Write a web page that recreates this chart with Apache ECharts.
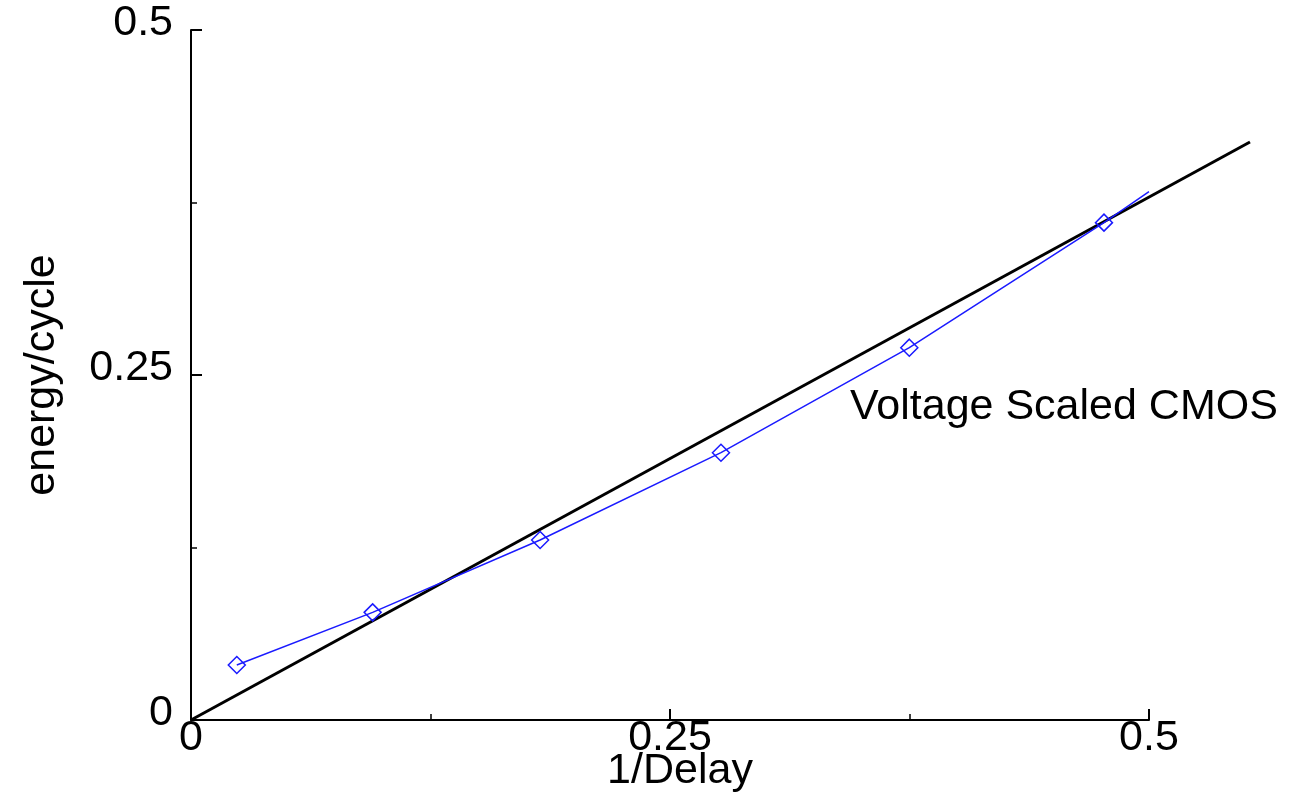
<!DOCTYPE html>
<html>
<head>
<meta charset="utf-8">
<script src="https://cdn.jsdelivr.net/npm/echarts@6/dist/echarts.min.js"></script>
<style>
  html, body { margin: 0; padding: 0; background: #fff; }
  #chart { width: 1291px; height: 800px; }
</style>
</head>
<body>
<div id="chart"></div>
<script>
// Measured energy per cycle against 1/delay for voltage-scaled CMOS
const inverseDelay = [0.0239, 0.0948, 0.1822, 0.2766, 0.3749, 0.4765, 0.5];
const energyPerCycle = [0.0399, 0.0780, 0.1304, 0.1937, 0.2698, 0.3604, 0.3828];

// Linear reference (energy proportional to 1/delay); it runs past the x-axis end
const referenceX = [0, 0.5527];
const referenceY = [0, 0.4188];

// Axis ranges and ticks
const xRange = [0, 0.5];
const yRange = [0, 0.5];
const tickStep = 0.25;

const FONT = '"Liberation Sans", Arial, Helvetica, sans-serif';
const FS = 43;

const measured = inverseDelay.map((x, i) => {
  const item = { value: [x, energyPerCycle[i]] };
  // the last point only extends the curve, without a marker
  if (i === inverseDelay.length - 1) item.symbol = 'none';
  return item;
});

const chart = echarts.init(document.getElementById('chart'), null, { renderer: 'canvas' });

const axisCommon = {
  type: 'value',
  interval: tickStep,
  splitNumber: 2,
  axisLine: { show: true, lineStyle: { color: '#000', width: 2 } },
  axisTick: { show: true, inside: true, length: 11, lineStyle: { color: '#000', width: 2 } },
  minorTick: { show: true, splitNumber: 2, length: 6, lineStyle: { color: '#000', width: 1.5 } },
  splitLine: { show: false },
  nameLocation: 'middle',
  nameMoveOverlap: false,
  nameTextStyle: { fontFamily: FONT, fontSize: FS, color: '#000' }
};

chart.setOption({
  animation: false,
  backgroundColor: '#fff',
  grid: { left: 191, right: 142, top: 30, bottom: 80, containLabel: false, outerBoundsMode: 'none' },
  xAxis: Object.assign({}, axisCommon, {
    min: xRange[0], max: xRange[1],
    name: '1/Delay',
    nameGap: 30,
    nameTextStyle: { fontFamily: FONT, fontSize: FS, color: '#000', padding: [0, 0, 0, 20] },
    axisLabel: { fontFamily: FONT, fontSize: FS, color: '#000', margin: -3 }
  }),
  yAxis: Object.assign({}, axisCommon, {
    min: yRange[0], max: yRange[1],
    name: 'energy/cycle',
    nameGap: 127,
    axisLabel: { fontFamily: FONT, fontSize: FS, color: '#000', margin: 18, verticalAlign: 'bottom', lineHeight: 14 }
  }),
  series: [
    {
      name: 'Voltage Scaled CMOS',
      type: 'line',
      data: measured,
      symbol: 'diamond',
      symbolSize: 17,
      clip: false,
      itemStyle: { color: 'rgba(255,255,255,0)', borderColor: '#1a1aff', borderWidth: 1.5 },
      lineStyle: { color: '#1a1aff', width: 1.5 },
      z: 3
    }
  ]
});

// The reference line extends beyond the axis maximum, so it is drawn as a
// graphic polyline placed through the grid's own coordinate conversion.
const referencePoints = referenceX.map((x, i) =>
  chart.convertToPixel({ xAxisIndex: 0, yAxisIndex: 0 }, [x, referenceY[i]])
);

chart.setOption({
  graphic: [
    {
      type: 'polyline',
      shape: { points: referencePoints },
      style: { stroke: '#000', lineWidth: 3, fill: null },
      z: 2
    },
    {
      type: 'text',
      left: 850,
      top: 386,
      style: { text: 'Voltage Scaled CMOS', fontFamily: FONT, fontSize: FS, fill: '#000' }
    }
  ]
});
</script>
</body>
</html>
